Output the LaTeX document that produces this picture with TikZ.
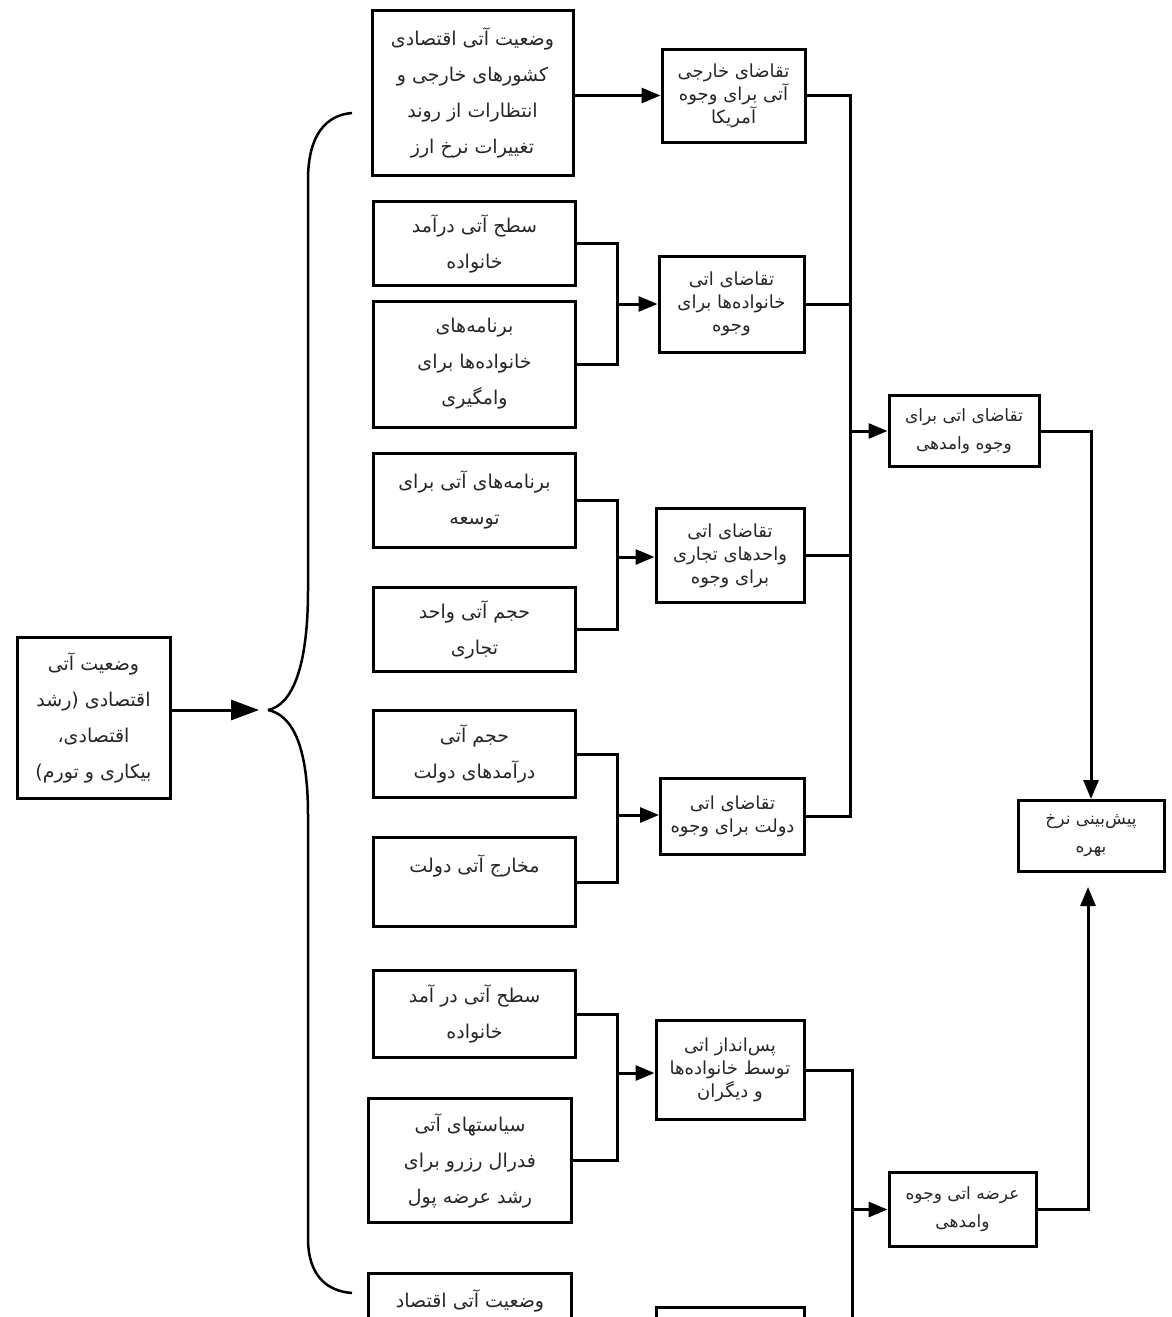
\documentclass[tikz,border=0pt]{standalone}
\usepackage{fontspec}
\newfontfamily\fa[Script=Arabic]{DejaVu Sans}
\TeXXeTstate=1
\usetikzlibrary{arrows.meta,calc}
\newcommand{\rl}[1]{\beginR #1\endR}
\begin{document}
\begin{tikzpicture}[x=1pt,y=-1pt,
  box/.style={draw, line width=3pt, inner sep=0pt, align=center, text=black!85},
  lt/.style={font=\fa\fontsize{19}{36}\selectfont},
  mt/.style={font=\fa\fontsize{18}{23}\selectfont},
  rt/.style={font=\fa\fontsize{17}{28}\selectfont},
  ln/.style={line width=3pt, line join=miter},
  arr/.style={line width=3pt, -{Triangle[length=19pt,width=15pt]}},
  bigarr/.style={line width=3pt, -{Triangle[length=28pt,width=20pt]}},
  brace/.style={line width=2.5pt}]
\useasboundingbox (0,0) rectangle (1172,1317);
\clip (0,0) rectangle (1172,1317);
\fill[white] (0,0) rectangle (1172,1317);

% leftmost
\node[box,lt,minimum width=153pt,minimum height=161pt] (L0) at (93.5,717.5)
  {\rl{وضعیت آتی}\\\rl{اقتصادی (رشد}\\\rl{اقتصادی،}\\\rl{بیکاری و تورم)}};

% left column
\node[box,lt,minimum width=201pt,minimum height=165pt] (L1) at (472.5,92.5)
  {\rl{وضعیت آتی اقتصادی}\\\rl{کشورهای خارجی و}\\\rl{انتظارات از روند}\\\rl{تغییرات نرخ ارز}};
\node[box,lt,minimum width=202pt,minimum height=84pt] (L2) at (474.5,243.5)
  {\rl{سطح آتی درآمد}\\\rl{خانواده}};
\node[box,lt,minimum width=202pt,minimum height=126pt] (L3) at (474.5,364)
  {\rl{برنامه‌های}\\\rl{خانواده‌ها برای}\\\rl{وامگیری}};
\node[box,lt,minimum width=202pt,minimum height=94pt] (L4) at (474.5,500)
  {\rl{برنامه‌های آتی برای}\\\rl{توسعه}};
\node[box,lt,minimum width=202pt,minimum height=84pt] (L5) at (474.5,629.5)
  {\rl{حجم  آتی واحد}\\\rl{تجاری}};
\node[box,lt,minimum width=202pt,minimum height=87pt] (L6) at (474.5,754)
  {\rl{حجم آتی}\\\rl{درآمدهای دولت}};
\node[box,lt,minimum width=202pt,minimum height=89pt] (L7) at (474.5,882)
  {\rl{مخارج آتی دولت}\\\mbox{}};
\node[box,lt,minimum width=202pt,minimum height=87pt] (L8) at (474.5,1014)
  {\rl{سطح آتی در آمد}\\\rl{خانواده}};
\node[box,lt,minimum width=203pt,minimum height=124pt] (L9) at (470,1160.5)
  {\rl{سیاستهای آتی}\\\rl{فدرال رزرو برای}\\\rl{رشد عرضه پول}};
\node[box,lt,minimum width=203pt,minimum height=122pt,anchor=north] (L10) at (470,1272)
  {\rl{وضعیت آتی اقتصاد}\\\mbox{}\\\mbox{}};

% middle column
\node[box,mt,minimum width=143pt,minimum height=93pt] (M1) at (733.5,95.5)
  {\rl{تقاضای خارجی}\\\rl{آتی برای وجوه}\\\rl{آمریکا}};
\node[box,mt,minimum width=145pt,minimum height=96pt] (M2) at (731.5,304)
  {\rl{تقاضای اتی}\\\rl{خانواده‌ها برای}\\\rl{وجوه}};
\node[box,mt,minimum width=148pt,minimum height=94pt] (M3) at (730,555.5)
  {\rl{تقاضای اتی}\\\rl{واحدهای تجاری}\\\rl{برای وجوه}};
\node[box,mt,minimum width=144pt,minimum height=76pt] (M4) at (732.5,816.5)
  {\rl{تقاضای اتی}\\\rl{دولت برای وجوه}};
\node[box,mt,minimum width=148pt,minimum height=99pt] (M5) at (730,1070)
  {\rl{پس‌انداز اتی}\\\rl{توسط خانواده‌ها}\\\rl{و دیگران}};
\node[box,mt,minimum width=148pt,minimum height=100pt,anchor=north] (M6) at (730,1306) {};

% right column
\node[box,rt,minimum width=150pt,minimum height=71pt] (R1) at (964,431)
  {\rl{تقاضای اتی برای}\\\rl{وجوه وامدهی}};
\node[box,rt,minimum width=147pt,minimum height=74pt] (R2) at (962.5,1209.5)
  {\rl{عرضه اتی وجوه}\\\rl{وامدهی}};
\node[box,rt,minimum width=146pt,minimum height=71pt] (R3) at (1091,836)
  {\rl{پیش‌بینی نرخ}\\\rl{بهره}};

% brace
\coordinate (tip) at (268,710);
\draw[brace] (352,113) .. controls (326,115) and (308,135) .. (308,180)
  -- (308,590) .. controls (308,668) and (292,705) .. (tip);
\draw[brace] (tip) .. controls (292,715) and (308,745) .. (308,815)
  -- (308,1238) .. controls (308,1275) and (326,1291) .. (352,1293);
\draw[bigarr, shorten >=9pt] (L0.east |- tip) -- (tip);

% L1 -> M1
\draw[arr] (L1.east |- M1.west) -- (M1.west);

% pairs -> middle boxes
\coordinate (b2) at (617,304);
\draw[ln] (L2.east) -| (b2) |- (L3.east);
\draw[arr] (b2) -- (M2.west);
\coordinate (b3) at (617,557);
\draw[ln] (L4.east) -| (b3) |- (L5.east);
\draw[arr] (b3) -- (b3 -| M3.west);
\coordinate (b4) at (617,815);
\draw[ln] (L6.east) -| (b4) |- (L7.east);
\draw[arr] (b4) -- (b4 -| M4.west);
\coordinate (b5) at (617,1073);
\draw[ln] (L8.east) -| (b5) |- (L9.east);
\draw[arr] (b5) -- (b5 -| M5.west);

% demand collector
\coordinate (v1) at (850,431);
\draw[ln] (M1.east) -| (v1) |- (M4.east);
\draw[ln] (M2.east) -- (M2.east -| v1);
\draw[ln] (M3.east) -- (M3.east -| v1);
\draw[arr] (v1) -- (R1.west);

% supply collector
\coordinate (v2) at (852,1209.5);
\draw[ln] (M5.east) -| (v2) |- (M6.east);
\draw[arr] (v2) -- (R2.west);

% to forecast
\draw[arr] (R1.east) -| (R3.north);
\draw[arr, shorten >=14pt] (R2.east) -| ([xshift=-3pt]R3.south);
\end{tikzpicture}
\end{document}
